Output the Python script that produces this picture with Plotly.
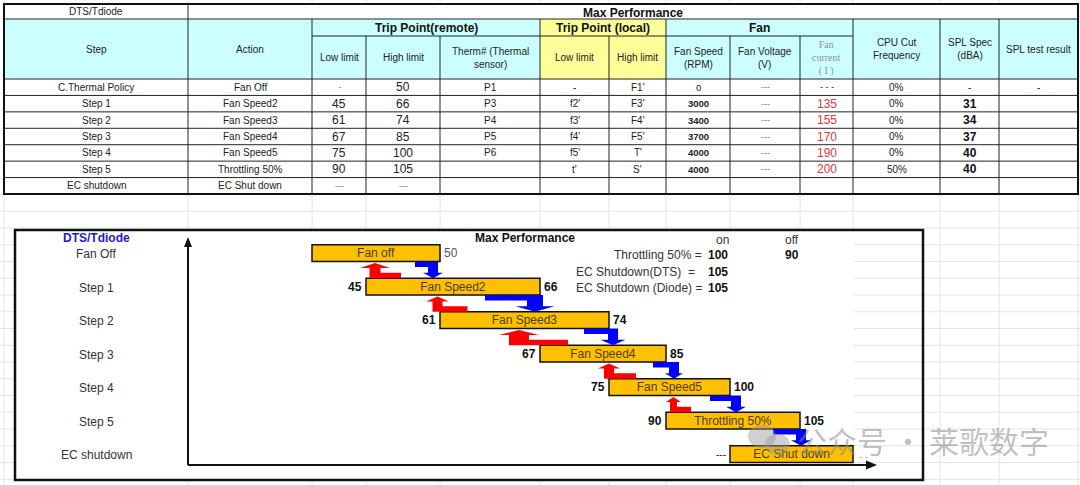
import plotly.graph_objects as go

W, H = 1080, 485
SANS = "Liberation Sans, Arial, sans-serif"
SERIF = "Liberation Serif, DejaVu Serif, serif"

# spreadsheet column edges (px), shared by the table and the drawing below it
COL_EDGES = [4, 188, 312, 366, 440, 540, 609, 666, 730, 800, 853, 940, 999, 1078]

# ---------------- table data ----------------
STEPS = ["C.Thermal Policy", "Step 1", "Step 2", "Step 3", "Step 4", "Step 5", "EC shutdown"]
ACTIONS = ["Fan Off", "Fan Speed2", "Fan Speed3", "Fan Speed4", "Fan Speed5", "Throttling 50%", "EC Shut down"]
REMOTE_LOW = ["-", "45", "61", "67", "75", "90", "---"]
REMOTE_HIGH = ["50", "66", "74", "85", "100", "105", "---"]
THERM = ["P1", "P3", "P4", "P5", "P6", "", ""]
LOCAL_LOW = ["-", "f2'", "f3'", "f4'", "f5'", "t'", ""]
LOCAL_HIGH = ["F1'", "F3'", "F4'", "F5'", "T'", "S'", ""]
FAN_RPM = ["0", "3000", "3400", "3700", "4000", "4000", ""]
FAN_VOLT = ["---", "---", "---", "---", "---", "---", ""]
FAN_CURRENT = ["- - -", "135", "155", "170", "190", "200", ""]
CPU_CUT = ["0%", "0%", "0%", "0%", "0%", "50%", ""]
SPL_SPEC = ["-", "31", "34", "37", "40", "40", ""]
SPL_TEST = ["-", "", "", "", "", "", ""]

# ---------------- diagram data ----------------
DIAG_ROWS = ["Fan Off", "Step 1", "Step 2", "Step 3", "Step 4", "Step 5", "EC shutdown"]
BAR_TEXT = ["Fan off", "Fan Speed2", "Fan Speed3", "Fan Speed4", "Fan Speed5", "Throttling 50%", "EC Shut down"]
BAR_START_COL = [2, 3, 4, 5, 6, 7, 8]
BAR_END_COL = [4, 5, 6, 7, 8, 9, 10]
LOW_LABEL = ["", "45", "61", "67", "75", "90", "---"]
HIGH_LABEL = ["50", "66", "74", "85", "100", "105", ""]

# hysteresis arrows between consecutive bars
RED_DX = [9, -2.5, -21, 0, 7.5]          # up arrow centre vs lower bar's left end
RED_TAIL = [26, 30, 49, 27, 17.5]
RED_HEAD = [15, 11.5, 20, 11, 7.5]
RED_SHAFT = [5.5, 5, 10, 5, 3.5]
BLUE_DX = [-7, -5, 4, 8, 6, 1]           # down arrow centre vs upper bar's right end
BLUE_TAIL = [18, 50, 29, 21, 26, 28]
BLUE_HEAD = [10, 19.5, 12.5, 9, 10, 10]
BLUE_SHAFT = [5, 8, 5, 5, 5, 5]

THRESH_LABELS = ["Throttling 50% =", "EC Shutdown(DTS)\u00a0\u00a0=\u00a0\u00a0", "EC Shutdown (Diode) ="]
THRESH_ON = ["100", "105", "105"]
THRESH_OFF = ["90", "", ""]

GRID = "#e4e4e4"
CYAN = "#CCFFFF"
YELLOW = "#FFFF99"

shapes = []
anns = []


def line(x0, y0, x1, y1, color="#222", width=1, layer="above"):
    shapes.append(dict(type="line", x0=x0, y0=y0, x1=x1, y1=y1, xref="x", yref="y",
                       line=dict(color=color, width=width), layer=layer))


def rect(x0, y0, x1, y1, fill, lc=None, lw=0, layer="below"):
    shapes.append(dict(type="rect", x0=x0, y0=y0, x1=x1, y1=y1, xref="x", yref="y",
                       fillcolor=fill, line=dict(color=lc or fill, width=lw), layer=layer))


def path(pts, color):
    d = "M " + " L ".join(f"{x:.1f},{y:.1f}" for x, y in pts) + " Z"
    shapes.append(dict(type="path", path=d, xref="x", yref="y", fillcolor=color,
                       line=dict(width=0), layer="above"))


def txt(x, y, s, size=10, color="#222", bold=False, family=SANS, xanchor="center"):
    anns.append(dict(x=x, y=y, xref="x", yref="y", text=f"<b>{s}</b>" if bold else s,
                     showarrow=False, font=dict(family=family, size=size, color=color),
                     xanchor=xanchor, yanchor="middle"))


def cx(i):
    return (COL_EDGES[i] + COL_EDGES[i + 1]) / 2


# spreadsheet gridlines
GRID_TOP, GRID_ROW = 194.5, 16.75
for x in COL_EDGES:
    line(x, 0, x, H, GRID, 1, "below")
y = GRID_TOP
while y < H:
    line(0, y, W, y, GRID, 1, "below")
    y += GRID_ROW

# ---------------- table ----------------
T_TOP, T_A, T_B, T_HEAD, T_BOT = 4, 19, 36, 79, 194
T_ROW = (T_BOT - T_HEAD) / len(STEPS)
L, R = COL_EDGES[0], COL_EDGES[-1]

rect(L, T_TOP, R, T_BOT, "white")
rect(L, T_A, COL_EDGES[5], T_HEAD, CYAN)
rect(COL_EDGES[5], T_A, COL_EDGES[7], T_HEAD, YELLOW)
rect(COL_EDGES[7], T_A, R, T_HEAD, CYAN)

line(L, T_A, R, T_A)
line(COL_EDGES[2], T_B, COL_EDGES[10], T_B)
for k in range(len(STEPS)):
    yy = T_HEAD + k * T_ROW
    line(L, yy, R, yy)
line(COL_EDGES[1], T_TOP, COL_EDGES[1], T_BOT)
for i in range(2, len(COL_EDGES) - 1):
    top = T_A if i in (2, 5, 7, 10, 11, 12) else T_B
    line(COL_EDGES[i], top, COL_EDGES[i], T_BOT)
rect(L, T_TOP, R, T_BOT, "rgba(0,0,0,0)", "#111", 2, "above")

txt(cx(0), (T_TOP + T_A) / 2, "DTS/Tdiode", 10)
txt((COL_EDGES[1] + R) / 2, (T_TOP + T_A) / 2 + 1, "Max Performance", 12, "#111", True)
txt(cx(0), 49, "Step")
txt(cx(1), 49, "Action")
txt((COL_EDGES[2] + COL_EDGES[5]) / 2, 28, "Trip Point(remote)", 12, "#111", True)
txt((COL_EDGES[5] + COL_EDGES[7]) / 2, 28, "Trip Point (local)", 12, "#111", True)
txt((COL_EDGES[7] + COL_EDGES[10]) / 2, 28, "Fan", 12, "#111", True)
sub_y = (T_B + T_HEAD) / 2
txt(cx(2), sub_y, "Low limit")
txt(cx(3), sub_y, "High limit")
txt(cx(4), sub_y, "Therm# (Thermal<br>sensor)")
txt(cx(5), sub_y, "Low limit")
txt(cx(6), sub_y, "High limit")
txt(cx(7), sub_y, "Fan Speed<br>(RPM)")
txt(cx(8), sub_y, "Fan Voltage<br>(V)")
txt(cx(9), sub_y, "Fan<br>current<br>( I )", 10, "#909090", family=SERIF)
txt(cx(10), 49, "CPU Cut<br>Frequency")
txt(cx(11), 49, "SPL Spec<br>(dBA)")
txt(cx(12), 49, "SPL test result")

columns = [STEPS, ACTIONS, REMOTE_LOW, REMOTE_HIGH, THERM, LOCAL_LOW, LOCAL_HIGH,
           FAN_RPM, FAN_VOLT, FAN_CURRENT, CPU_CUT, SPL_SPEC, SPL_TEST]
for c, values in enumerate(columns):
    for r, v in enumerate(values):
        if not v:
            continue
        yy = T_HEAD + (r + 0.5) * T_ROW
        size, color, bold = 10, "#222", False
        if c in (2, 3) and v[0].isdigit():
            size = 12
        elif c in (2, 3, 8):
            size, color = 9, "#777"
        elif c == 7:
            size, bold = 9.5, v != "0"
        elif c == 9 and v[0].isdigit():
            size, color = 12, "#E0383A"
        elif c == 9:
            size = 9
        elif c == 11 and v[0].isdigit():
            size, bold, color = 12, True, "#111"
        txt(cx(c), yy, v, size, color, bold)

# ---------------- diagram ----------------
BOX_L, BOX_T, BOX_R, BOX_B = 15, 230, 923, 480
rect(BOX_L, BOX_T, 854, BOX_B, "white")
rect(BOX_L, BOX_T, BOX_R, BOX_B, "rgba(0,0,0,0)", "#111", 2.5, "above")

AX_X, AX_Y = COL_EDGES[1], 465
line(AX_X, AX_Y, AX_X, 244, "#111", 2)
path([(AX_X, 237), (AX_X + 4, 247), (AX_X - 4, 247)], "#111")
line(AX_X, AX_Y, 868, AX_Y, "#111", 2)
path([(877, AX_Y), (866, AX_Y - 4.5), (866, AX_Y + 4.5)], "#111")

bar_top = [GRID_TOP + GRID_ROW * (3 + 2 * i) for i in range(len(DIAG_ROWS))]
bar_mid = [t + GRID_ROW / 2 for t in bar_top]
starts = [COL_EDGES[i] for i in BAR_START_COL]
ends = [COL_EDGES[i] for i in BAR_END_COL]

fig = go.Figure()
fig.add_trace(go.Bar(
    y=bar_mid, base=starts, x=[e - s for s, e in zip(starts, ends)],
    orientation="h", width=GRID_ROW,
    marker=dict(color="#FFC000", line=dict(color="#111", width=1.5)),
    text=BAR_TEXT, textposition="inside", insidetextanchor="middle",
    constraintext="none", textfont=dict(family=SANS, size=12, color="#4d3d00"),
    hoverinfo="skip", showlegend=False,
))

txt(96, 238, "DTS/Tdiode", 12, "#1c1ccc", True)
for i, name in enumerate(DIAG_ROWS):
    txt(96, bar_mid[i] + 1, name, 12, "#333")
    if LOW_LABEL[i]:
        bold = LOW_LABEL[i][0].isdigit()
        txt(starts[i] - 2, bar_mid[i], LOW_LABEL[i], 12 if bold else 10, "#111", bold, xanchor="right")
    if HIGH_LABEL[i]:
        bold = i > 0
        txt(ends[i] + 2, bar_mid[i], HIGH_LABEL[i], 12, "#111" if bold else "#555", bold, xanchor="left")
txt(ends[-1] + 4, bar_mid[-1] + 2, "- -", 10, "#aaa", xanchor="left")

# red: step up when temperature falls back, blue: step down when it rises
for i in range(len(DIAG_ROWS) - 1):
    yb = bar_top[i] + GRID_ROW
    yt = bar_top[i + 1]
    if i < len(RED_DX):
        c0 = starts[i + 1] + RED_DX[i]
        hh, sh, tl = RED_HEAD[i], RED_SHAFT[i], RED_TAIL[i]
        tip, hb, tt = yb + 1.5, yb + 6.5, yt - 5.5
        path([(c0, tip), (c0 + hh, hb), (c0 + sh, hb), (c0 + sh, tt), (c0 + tl, tt),
              (c0 + tl, yt), (c0 - sh, yt), (c0 - sh, hb), (c0 - hh, hb)], "#FF0000")
    c0 = ends[i] + BLUE_DX[i]
    hh, sh, tl = BLUE_HEAD[i], BLUE_SHAFT[i], BLUE_TAIL[i]
    hb, band = yt - 5.5, yb + 5.5
    path([(c0 - tl, yb), (c0 + sh, yb), (c0 + sh, hb), (c0 + hh, hb), (c0, yt),
          (c0 - hh, hb), (c0 - sh, hb), (c0 - sh, band), (c0 - tl, band)], "#0000FF")

txt(525, 238, "Max Performance", 12, "#111", True)
txt(722, 240, "on", 12, "#333")
txt(792, 240, "off", 12, "#333")
for k, lab in enumerate(THRESH_LABELS):
    yy = 255 + k * 16.6
    txt(704, yy, lab, 12, "#333", xanchor="right")
    txt(718, yy, THRESH_ON[k], 12, "#111", True)
    if THRESH_OFF[k]:
        txt(792, yy, THRESH_OFF[k], 12, "#111", True)

# watermark
shapes.append(dict(type="circle", x0=748, y0=425, x1=776, y1=448, xref="x", yref="y",
                   fillcolor="rgba(150,150,150,0.45)", line=dict(width=0), layer="above"))
shapes.append(dict(type="circle", x0=765, y0=434, x1=790, y1=455, xref="x", yref="y",
                   fillcolor="rgba(150,150,150,0.45)", line=dict(width=0), layer="above"))
anns.append(dict(x=795, y=440, xref="x", yref="y", text="公众号\u2009·\u2009莱歌数字", showarrow=False,
                 xanchor="left", yanchor="middle",
                 font=dict(family="Noto Sans CJK SC", size=30, color="rgba(140,140,140,0.55)")))

fig.update_layout(
    width=W, height=H, margin=dict(l=0, r=0, t=0, b=0),
    paper_bgcolor="white", plot_bgcolor="white",
    xaxis=dict(range=[0, W], visible=False, fixedrange=True),
    yaxis=dict(range=[H, 0], visible=False, fixedrange=True),
    shapes=shapes, annotations=anns, showlegend=False,
)
# the page's default body margin would push the figure 8px off the window
fig.write_html("out.html", config={"displayModeBar": False},
               post_script="document.body.style.margin='0';")
